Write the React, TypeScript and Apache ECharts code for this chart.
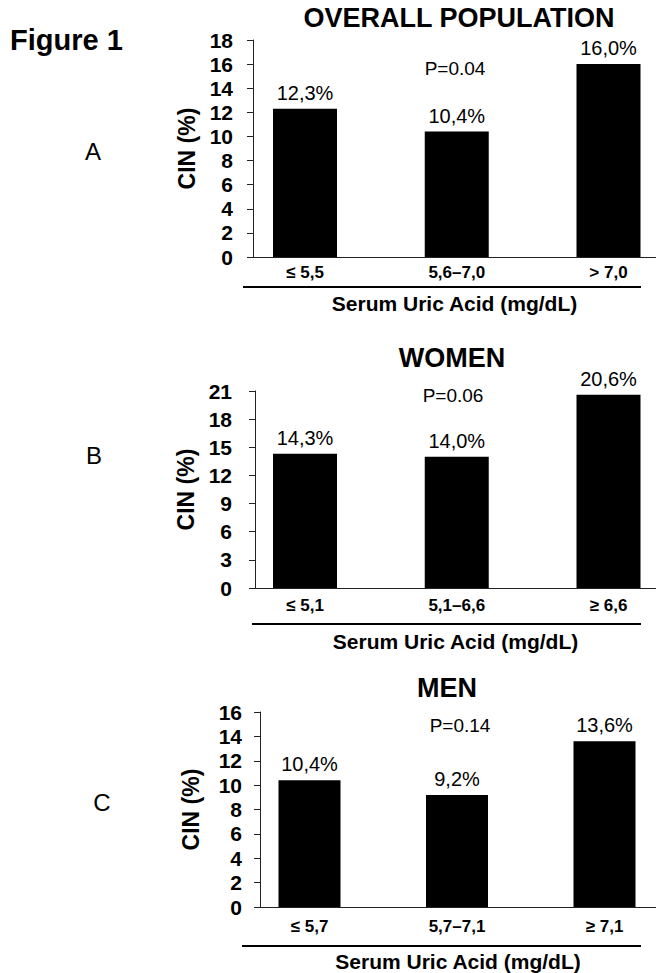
import React, { useEffect, useRef } from "react";
import * as echarts from "echarts";

// ---- data ----
const figureTitle = "Figure 1";
const panelTitles = ["OVERALL POPULATION", "WOMEN", "MEN"];
const panelLetters = ["A", "B", "C"];
const pValues = ["P=0.04", "P=0.06", "P=0.14"];
const categoriesA = ["≤ 5,5", "5,6–7,0", "> 7,0"];
const categoriesB = ["≤ 5,1", "5,1–6,6", "≥ 6,6"];
const categoriesC = ["≤ 5,7", "5,7–7,1", "≥ 7,1"];
const cinA = [12.3, 10.4, 16.0];
const cinB = [14.3, 14.0, 20.6];
const cinC = [10.4, 9.2, 13.6];
const yMaxes = [18, 21, 16];
const yIntervals = [2, 3, 2];
const xAxisTitle = "Serum Uric Acid (mg/dL)";
const yAxisTitle = "CIN (%)";

const categoriesAll = [categoriesA, categoriesB, categoriesC];
const valuesAll = [cinA, cinB, cinC];

// ---- layout (pixels) ----
const W = 656;
const H = 973;
const FONT = "'Liberation Sans', Arial, Helvetica, sans-serif";
const layout = [
  { axisX: 253, top: 40, bottom: 257, bar0: 305, step: 151.75, barW: 64, titleX: 459, titleY: 18, pX: 455, pY: 68, letterX: 93, letterY: 151, sepY: 287, sepX1: 243, sepX2: 641, catMargin: 7, nameY: 304, yLabMargin: 20, yNameX: 188 },
  { axisX: 255, top: 391, bottom: 588, bar0: 305, step: 151.75, barW: 64, titleX: 452, titleY: 358, pX: 453, pY: 395, letterX: 94, letterY: 455, sepY: 624, sepX1: 252, sepX2: 641, catMargin: 9, nameY: 642, yLabMargin: 23, yNameX: 188 },
  { axisX: 260, top: 712, bottom: 910, bar0: 309.5, step: 147.5, barW: 62, titleX: 447, titleY: 688, pX: 460, pY: 725, letterX: 102, letterY: 802, sepY: 946, sepX1: 242, sepX2: 641, catMargin: 11, nameY: 965, yLabMargin: 18, yNameX: 190 },
];

function fmt(v: number) {
  return v.toFixed(1).replace(".", ",") + "%";
}

function buildOption() {
  const grid: any[] = [];
  const xAxis: any[] = [];
  const yAxis: any[] = [];
  const series: any[] = [];
  const title: any[] = [];
  const graphic: any[] = [];

  title.push({
    text: figureTitle,
    left: 10,
    top: 25,
    padding: 0,
    textStyle: { fontFamily: FONT, fontSize: 29, fontWeight: "bold", color: "#000" },
  });

  layout.forEach((L, i) => {
    const cats = categoriesAll[i];
    grid.push({ left: L.axisX, top: L.top, width: W - L.axisX, height: L.bottom - L.top, containLabel: false });
    xAxis.push({
      gridIndex: i,
      type: "value",
      min: -(L.bar0 - L.axisX) / L.step,
      max: (W - L.bar0) / L.step,
      splitLine: { show: false },
      axisTick: { show: false },
      axisLine: { show: true, onZero: false, lineStyle: { color: "#222", width: 1 } },
      axisLabel: {
        customValues: [0, 1, 2],
        formatter: (v: number) => cats[Math.round(v)] ?? "",
        margin: L.catMargin,
        fontFamily: FONT,
        fontSize: 17,
        fontWeight: "bold",
        color: "#000",
      },
      name: xAxisTitle,
      nameLocation: "middle",
      nameGap: L.nameY - L.bottom - 11,
      nameTextStyle: { fontFamily: FONT, fontSize: 21, fontWeight: "bold", color: "#000" },
    });
    yAxis.push({
      gridIndex: i,
      type: "value",
      min: 0,
      max: yMaxes[i],
      interval: yIntervals[i],
      splitLine: { show: false },
      axisLine: { show: true, onZero: false, lineStyle: { color: "#222", width: 1 } },
      axisTick: { show: true, inside: false, length: 6, lineStyle: { color: "#222" } },
      axisLabel: { margin: L.yLabMargin, fontFamily: FONT, fontSize: 21, fontWeight: "bold", color: "#000" },
      name: yAxisTitle,
      nameLocation: "middle",
      nameGap: L.axisX - L.yNameX - 12,
      nameTextStyle: { fontFamily: FONT, fontSize: 23, fontWeight: "bold", color: "#000" },
    });
    series.push({
      type: "bar",
      xAxisIndex: i,
      yAxisIndex: i,
      barWidth: L.barW,
      data: valuesAll[i].map((v, k) => [k, v]),
      itemStyle: { color: "#000" },
      label: {
        show: true,
        position: "top",
        distance: 6,
        formatter: (p: any) => fmt(p.value[1]),
        fontFamily: FONT,
        fontSize: 20,
        color: "#000",
      },
    });
    title.push({
      text: panelTitles[i],
      left: L.titleX,
      top: L.titleY - 14,
      padding: 0,
      textAlign: "center",
      textStyle: { fontFamily: FONT, fontSize: 27, fontWeight: "bold", color: "#000" },
    });
    graphic.push({
      type: "text",
      x: L.pX,
      y: L.pY,
      style: { text: pValues[i], fontFamily: FONT, fontSize: 19, fill: "#000", textAlign: "center", textVerticalAlign: "middle" },
    });
    graphic.push({
      type: "text",
      x: L.letterX,
      y: L.letterY,
      style: { text: panelLetters[i], fontFamily: FONT, fontSize: 24, fill: "#000", textAlign: "center", textVerticalAlign: "middle" },
    });
    graphic.push({
      type: "line",
      shape: { x1: L.sepX1, y1: L.sepY, x2: L.sepX2, y2: L.sepY },
      style: { stroke: "#000", lineWidth: 2 },
    });
  });

  return { animation: false, backgroundColor: "#fff", title, grid, xAxis, yAxis, series, graphic };
}

export default function App() {
  const ref = useRef<HTMLDivElement>(null);
  useEffect(() => {
    if (!ref.current) return;
    const chart = echarts.init(ref.current, undefined, { renderer: "svg" });
    chart.setOption(buildOption() as any);
    return () => chart.dispose();
  }, []);
  return <div ref={ref} style={{ position: "absolute", left: 0, top: 0, width: W, height: H, background: "#fff" }} />;
}
